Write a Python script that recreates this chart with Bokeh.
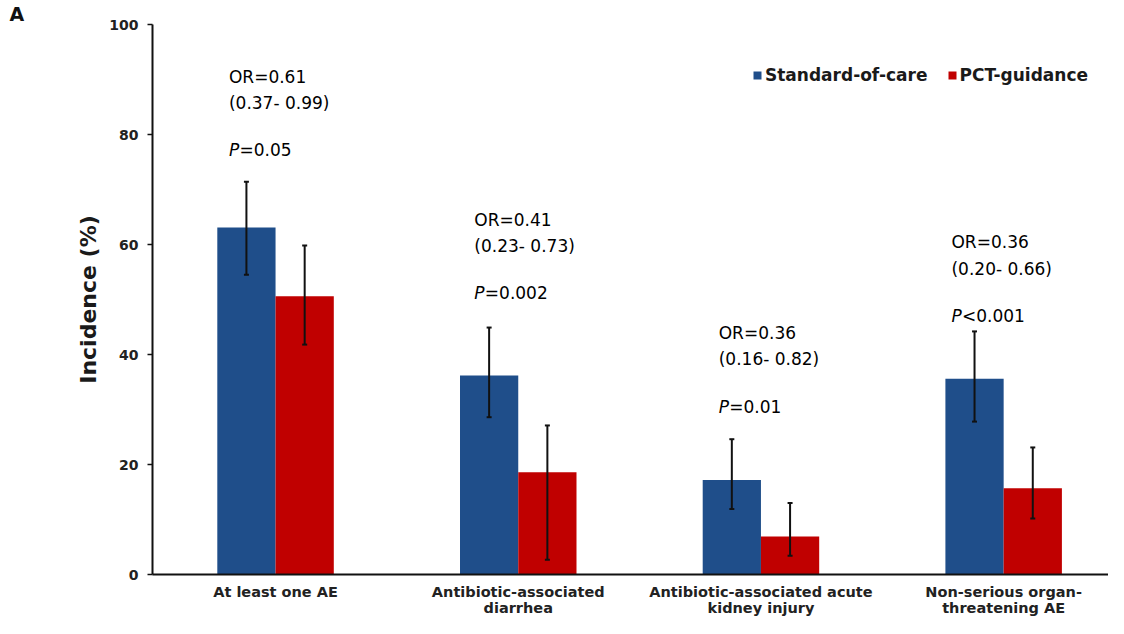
from bokeh.plotting import figure
from bokeh.models import (ColumnDataSource, Range1d, FixedTicker, Whisker, TeeHead,
                          Legend, LegendItem)
from bokeh.core.properties import value
from bokeh.embed import file_html
from bokeh.resources import INLINE

# ---- data ----
categories = ["At least one AE", "Antibiotic-associated\ndiarrhea",
              "Antibiotic-associated acute\nkidney injury", "Non-serious organ-\nthreatening AE"]
soc = [63.1, 36.2, 17.2, 35.6]
soc_lo = [54.5, 28.6, 11.9, 27.8]
soc_hi = [71.4, 44.9, 24.6, 44.2]
pct = [50.6, 18.6, 6.9, 15.7]
pct_lo = [41.8, 2.7, 3.4, 10.2]
pct_hi = [59.8, 27.1, 13.0, 23.1]
or_text = ["OR=0.61", "OR=0.41", "OR=0.36", "OR=0.36"]
ci_text = ["(0.37- 0.99)", "(0.23- 0.73)", "(0.16- 0.82)", "(0.20- 0.66)"]
p_text = ["=0.05", "=0.002", "=0.01", "<0.001"]
y_ticks = [0, 20, 40, 60, 80, 100]

# ---- layout of annotations ----
p_label_y = [77.1, 51.1, 30.5, 47.0]
label_x_off = [0.048, 0.059, 0.066, 0.025]

BLUE = "#1F4E8A"
RED = "#C00000"
FONT = "DejaVu Sans"
BW = 0.24

idx = list(range(len(categories)))
x_soc = [i - BW / 2 for i in idx]
x_pct = [i + BW / 2 for i in idx]

p = figure(width=1108, height=618, output_backend="svg", toolbar_location=None,
           x_range=Range1d(-0.507, 3.432), y_range=Range1d(0, 100),
           min_border_left=152, min_border_right=0, min_border_top=22, min_border_bottom=44,
           title="A")
p.title.align = "left"
p.title.offset = -143
p.title.standoff = 0
p.title.text_font = FONT
p.title.text_font_style = "bold"
p.title.text_font_size = "19px"
p.title.text_color = "#111111"
p.title.vertical_align = "bottom"

p.outline_line_color = None
p.grid.grid_line_color = None
p.background_fill_color = "white"

src_soc = ColumnDataSource(dict(x=x_soc, top=soc, lo=soc_lo, hi=soc_hi))
src_pct = ColumnDataSource(dict(x=x_pct, top=pct, lo=pct_lo, hi=pct_hi))

r1 = p.vbar(x="x", top="top", width=BW, source=src_soc, fill_color=BLUE, line_color=None)
r2 = p.vbar(x="x", top="top", width=BW, source=src_pct, fill_color=RED, line_color=None)

for src in (src_soc, src_pct):
    w = Whisker(base="x", lower="lo", upper="hi", source=src, line_color="#111111", line_width=2,
                level="overlay",
                upper_head=TeeHead(size=5, line_color="#111111", line_width=2),
                lower_head=TeeHead(size=5, line_color="#111111", line_width=2))
    p.add_layout(w)

# annotations
lx = [x_soc[i] - BW / 2 + label_x_off[i] for i in idx]
or_y = [v + 13.4 for v in p_label_y]
ci_y = [v + 8.6 for v in p_label_y]
ann = ColumnDataSource(dict(x=lx, or_y=or_y, ci_y=ci_y, p_y=p_label_y,
                            ort=or_text, cit=ci_text, pt=p_text, P=["P"] * 4))
common = dict(text_font=value(FONT), text_font_size="17px", text_color="#000000",
              text_align="left", text_baseline="middle", source=ann)
p.text(x="x", y="or_y", text="ort", **common)
p.text(x="x", y="ci_y", text="cit", **common)
p.text(x="x", y="p_y", text="P", text_font_style="italic", **common)
p.text(x="x", y="p_y", text="pt", x_offset=10.5, **common)

# axes
p.xaxis.ticker = FixedTicker(ticks=idx)
p.xaxis.major_label_overrides = {i: c for i, c in zip(idx, categories)}
p.xaxis.major_tick_line_color = None
p.xaxis.minor_tick_line_color = None
p.xaxis.axis_line_width = 2
p.xaxis.axis_line_color = "#111111"
p.xaxis.major_label_text_font = FONT
p.xaxis.major_label_text_font_style = "bold"
p.xaxis.major_label_text_font_size = "14.5px"
p.xaxis.major_label_text_color = "#222222"
p.xaxis.major_label_standoff = 3
p.xaxis.major_label_text_line_height = 1.0

p.yaxis.ticker = FixedTicker(ticks=y_ticks)
p.yaxis.minor_tick_line_color = None
p.yaxis.axis_line_width = 2
p.yaxis.axis_line_color = "#111111"
p.yaxis.major_tick_line_color = "#111111"
p.yaxis.major_tick_line_width = 1.5
p.yaxis.major_tick_out = 5
p.yaxis.major_tick_in = 0
p.yaxis.major_label_standoff = 9
p.yaxis.major_label_text_font = FONT
p.yaxis.major_label_text_font_style = "bold"
p.yaxis.major_label_text_font_size = "14px"
p.yaxis.major_label_text_color = "#222222"
p.yaxis.axis_label = "Incidence (%)"
p.yaxis.axis_label_text_font = FONT
p.yaxis.axis_label_text_font_style = "bold"
p.yaxis.axis_label_text_font_size = "22px"
p.yaxis.axis_label_text_color = "#1a1a1a"
p.yaxis.axis_label_standoff = 5

legend = Legend(items=[LegendItem(label="Standard-of-care", renderers=[r1]),
                       LegendItem(label="PCT-guidance", renderers=[r2])],
                orientation="horizontal", location=(600, 489))
legend.label_text_font = FONT
legend.label_text_font_style = "bold"
legend.label_text_font_size = "17px"
legend.label_text_color = "#1a1a1a"
legend.border_line_color = None
legend.background_fill_alpha = 0
legend.padding = 0
legend.margin = 0
legend.spacing = 19
legend.label_standoff = 3
legend.glyph_width = 10
legend.glyph_height = 10
legend.label_height = 18
p.add_layout(legend)

open("out.html", "w").write(file_html(p, INLINE))
